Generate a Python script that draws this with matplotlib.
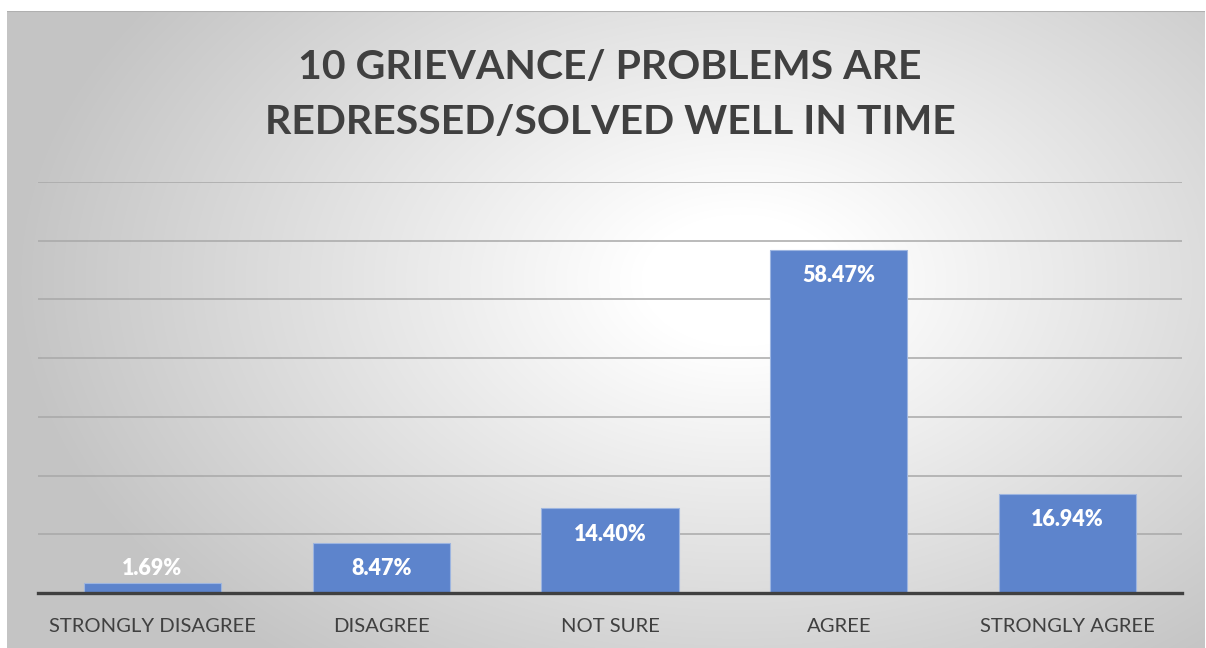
import numpy as np
import matplotlib
matplotlib.use("Agg")
import matplotlib.pyplot as plt

categories = ["STRONGLY DISAGREE", "DISAGREE", "NOT SURE", "AGREE", "STRONGLY AGREE"]
values = [1.69, 8.47, 14.40, 58.47, 16.94]
title = "10 GRIEVANCE/ PROBLEMS ARE\nREDRESSED/SOLVED WELL IN TIME"

W, H = 1206, 648
plt.rcParams['font.family'] = ['Lato', 'DejaVu Sans']

fig = plt.figure(figsize=(W / 100, H / 100), dpi=100)
fig.patch.set_facecolor('white')

# radial gradient panel behind the chart
px0, px1, py0, py1 = 7, 1205, 11, 648
bg = fig.add_axes([px0 / W, 0, (px1 - px0) / W, (H - py0) / H])
xx, yy = np.meshgrid(np.arange(px0, px1), np.arange(py0, py1))
cx, cy, rx, ry = 740, 280, 660, 440
d = np.sqrt(((xx - cx) / rx) ** 2 + ((yy - cy) / ry) ** 2)
shade = 1 - 0.23 * np.clip((d - 0.15) / 0.95, 0, 1)
bg.imshow(np.dstack([shade] * 3), aspect='auto', extent=(0, 1, 0, 1), interpolation='bilinear')
bg.axhline(1, color='#b0b0b0', lw=1.5)
bg.set_axis_off()

# plot area
left, right, base, top = 38, 1182, 593, 182
ax = fig.add_axes([left / W, (H - base) / H, (right - left) / W, (base - top) / H])
ax.patch.set_alpha(0)
x = np.arange(len(categories))
ax.bar(x, values, width=0.6, color='#5D84CC', edgecolor='#9DB5E0', linewidth=0.8, zorder=3)
ax.set_xlim(-0.5, len(categories) - 0.5)
ax.set_ylim(0, 70)
ax.set_yticks(np.arange(0, 71, 10))
ax.yaxis.grid(True, color='#a8a8a8', lw=1.1, zorder=0)
ax.tick_params(axis='y', length=0, labelleft=False)
ax.tick_params(axis='x', length=0, pad=18, labelsize=14.6, labelcolor='#404040')
ax.set_xticks(x)
ax.set_xticklabels(categories)
for s in ['left', 'right', 'top']:
    ax.spines[s].set_visible(False)
ax.spines['bottom'].set_color('#404040')
ax.spines['bottom'].set_linewidth(2.4)
ax.spines['bottom'].set_zorder(4)

for xi, v in zip(x, values):
    ax.text(xi, max(v - 4.4, 4.1), f"{v:.2f}%", ha='center', va='center',
            color='white', fontsize=15.5, fontweight='heavy', zorder=5)

fig.text(610 / W, 1 - 95 / H, title, ha='center', va='center', fontsize=29.5,
         fontweight='bold', color='#404040', linespacing=1.6)

fig.savefig('out.png', dpi=100)
